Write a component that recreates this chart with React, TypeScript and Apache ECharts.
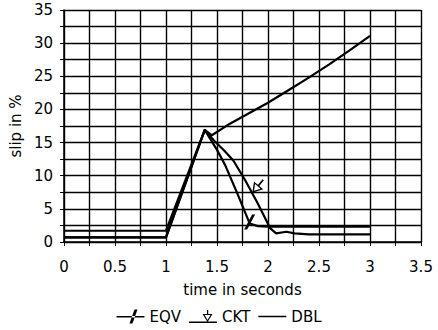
import React, { useEffect, useRef } from "react";
import * as echarts from "echarts";

const seriesNames = ["EQV", "CKT", "DBL"];

const eqvData: number[][] = [
  [0, 0.7], [1.0, 0.7], [1.38, 16.9], [1.5, 13.9], [1.58, 11.6],
  [1.7, 7.3], [1.82, 2.8], [1.9, 2.4], [2.0, 2.3], [3.0, 2.3],
];

const cktData: number[][] = [
  [0, 0.7], [1.0, 0.7], [1.38, 16.9], [1.47, 15.3], [1.57, 13.8],
  [1.66, 12.3], [1.775, 9.35], [1.9, 5.8], [2.02, 2.1], [2.08, 1.3],
  [2.18, 1.55], [2.26, 1.3], [2.4, 1.15], [3.0, 1.15],
];

const dblData: number[][] = [
  [0, 1.7], [1.0, 1.7], [1.38, 16.9], [1.45, 16.1], [1.6, 17.6],
  [1.8, 19.3], [2.0, 21.0], [2.2, 22.9], [2.4, 24.8], [2.6, 26.8],
  [2.8, 28.9], [3.0, 31.1],
];

const eqvMarks: number[][] = [[1.82, 3.0]];
const cktMarks: number[][] = [[1.9, 8.4]];

const FONT = "DejaVu Sans";

const slashSymbol = "path://M8,0 L11,0 L3,14 L0,14 Z";
const arrowSymbol =
  "path://M4.3,0 L5.7,0 L5.7,6 L4.3,6 Z M0,6 L10,6 L5,14 Z M2,7 L5,11.8 L8,7 Z";

const eqvIcon = "path://M0,6.5 L28,6.5 L28,8 L0,8 Z M13,14 L16,14 L21,0 L18,0 Z";
const cktIcon =
  "path://M0,11.5 L28,11.5 L28,13 L0,13 Z M18,0 L19.2,0 L19.2,4 L18,4 Z M13.5,4 L23.5,4 L18.5,12 Z M15.5,5 L18.5,10 L21.5,5 Z";
const dblIcon = "path://M0,0 L28,0 L28,1.5 L0,1.5 Z";

const isMultiple = (v: number, step: number) =>
  Math.abs(v / step - Math.round(v / step)) < 1e-6;

export default function App() {
  const ref = useRef<HTMLDivElement>(null);

  useEffect(() => {
    document.body.style.margin = "0";
    const chart = echarts.init(ref.current!, null, { renderer: "svg" });

    const lineStyle = { color: "#000", width: 2.2 };
    const gridLine = { show: true, lineStyle: { color: "#000", width: 1.4 } };

    const option: any = {
      animation: false,
      backgroundColor: "#fff",
      grid: { left: 64, top: 10, right: 17, bottom: 88, containLabel: false },
      legend: {
        bottom: 1,
        left: "center",
        itemWidth: 28,
        itemHeight: 14,
        itemGap: 8,
        itemStyle: { color: "#000", borderWidth: 0 },
        textStyle: { fontFamily: FONT, fontSize: 15, color: "#000" },
        data: [
          { name: seriesNames[0], icon: eqvIcon },
          { name: seriesNames[1], icon: cktIcon },
          { name: seriesNames[2], icon: dblIcon },
        ],
      },
      xAxis: {
        type: "value",
        min: 0,
        max: 3.5,
        interval: 0.25,
        name: "time in seconds",
        nameLocation: "middle",
        nameGap: 40,
        nameTextStyle: { fontFamily: FONT, fontSize: 15, color: "#000" },
        axisLine: { show: true, onZero: false, lineStyle: { color: "#000", width: 1.5 } },
        axisTick: { show: true, length: 4, lineStyle: { color: "#000" } },
        axisLabel: {
          margin: 17,
          fontFamily: FONT,
          fontSize: 15,
          color: "#000",
          showMinLabel: true,
          showMaxLabel: true,
          formatter: (v: number) => (isMultiple(v, 0.5) ? String(v) : ""),
        },
        splitLine: gridLine,
      },
      yAxis: {
        type: "value",
        min: 0,
        max: 35,
        interval: 2.5,
        name: "slip in %",
        nameLocation: "middle",
        nameGap: 36,
        nameTextStyle: { fontFamily: FONT, fontSize: 15, color: "#000" },
        axisLine: { show: true, lineStyle: { color: "#000", width: 1.5 } },
        axisTick: { show: true, length: 4, lineStyle: { color: "#000" } },
        axisLabel: {
          margin: 11,
          fontFamily: FONT,
          fontSize: 15,
          color: "#000",
          formatter: (v: number) => (isMultiple(v, 5) ? String(v) : ""),
        },
        splitLine: gridLine,
      },
      series: [
        {
          name: seriesNames[0],
          type: "line",
          data: eqvData,
          color: "#000",
          symbol: "none",
          lineStyle,
          markPoint: {
            symbol: slashSymbol,
            symbolSize: [11, 15],
            itemStyle: { color: "#000" },
            label: { show: false },
            data: eqvMarks.map((c) => ({ coord: c })),
          },
        },
        {
          name: seriesNames[1],
          type: "line",
          data: cktData,
          color: "#000",
          symbol: "none",
          lineStyle,
          markPoint: {
            symbol: arrowSymbol,
            symbolSize: [12, 17],
            symbolRotate: -40,
            itemStyle: { color: "#000" },
            label: { show: false },
            data: cktMarks.map((c) => ({ coord: c })),
          },
        },
        {
          name: seriesNames[2],
          type: "line",
          data: dblData,
          color: "#000",
          symbol: "none",
          lineStyle,
        },
      ],
    };

    chart.setOption(option);
    return () => chart.dispose();
  }, []);

  return <div ref={ref} style={{ width: 438, height: 330 }} />;
}
